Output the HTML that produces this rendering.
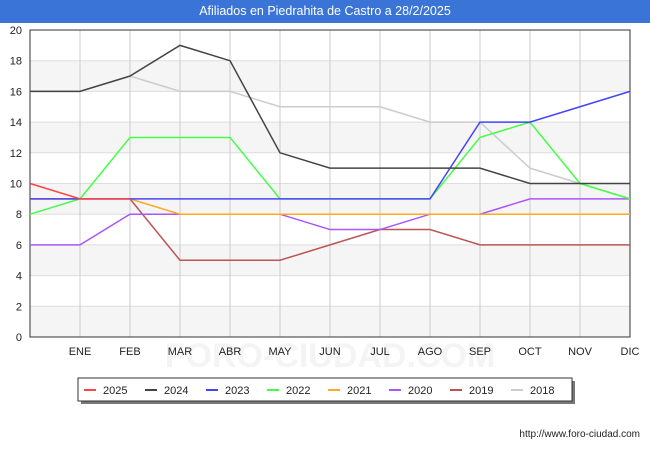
<!DOCTYPE html>
<html><head><meta charset="utf-8"><style>
body{margin:0;width:650px;height:450px;background:#fff;font-family:"Liberation Sans",sans-serif;overflow:hidden}
#title{position:absolute;left:0;top:0;width:650px;height:23px;background:#3a74d6;color:#fff;font-size:12.5px;text-align:center;line-height:23px}
</style></head><body>
<div id="title">Afiliados en Piedrahita de Castro a 28/2/2025</div>
<svg id="c" width="650" height="450" style="position:absolute;left:0;top:0"></svg>
<script>
const months=["","ENE","FEB","MAR","ABR","MAY","JUN","JUL","AGO","SEP","OCT","NOV","DIC"];
const yTicks=[0,2,4,6,8,10,12,14,16,18,20];
const names=["2025","2024","2023","2022","2021","2020","2019","2018"];
const colors=["#ff4444","#444444","#4444ff","#44ff44","#ffaa22","#aa55ff","#bb5555","#cccccc"];
const s2025=[10,9,9];
const s2024=[16,16,17,19,18,12,11,11,11,11,10,10,10];
const s2023=[9,9,9,9,9,9,9,9,9,14,14,15,16];
const s2022=[8,9,13,13,13,9,9,9,9,13,14,10,9];
const s2021=[9,9,9,8,8,8,8,8,8,8,8,8,8];
const s2020=[6,6,8,8,8,8,7,7,8,8,9,9,9];
const s2019=[9,9,9,5,5,5,6,7,7,6,6,6,6];
const s2018=[16,16,17,16,16,15,15,15,14,14,11,10,9];
const series=[s2025,s2024,s2023,s2022,s2021,s2020,s2019,s2018];
const NS="http://www.w3.org/2000/svg",svg=document.getElementById('c');
const L=30,R=630,T=30,B=337;
const x=i=>L+i*(R-L)/12, y=v=>B-v*(B-T)/20;
function mk(t,a,p){const e=document.createElementNS(NS,t);for(const k in a)e.setAttribute(k,a[k]);(p||svg).appendChild(e);return e;}
for(let v=0;v<20;v+=4){const r=mk('rect',{x:L,y:y(v+2),width:R-L,height:y(v)-y(v+2),fill:'#f5f5f5'});

}
const wm=mk('text',{x:330,y:367,'text-anchor':'middle','font-size':34,fill:'#f4f4f4','font-weight':'bold'});wm.textContent='FORO-CIUDAD.COM';


yTicks.forEach(v=>{const l=mk('line',{x1:L,x2:R,y1:y(v),y2:y(v),stroke:'#dddddd'});


const t=mk('text',{x:L-8,y:y(v)+4,'text-anchor':'end','font-size':11,fill:'#222'});t.textContent=v;

});
months.forEach((m,i)=>{const l=mk('line',{x1:x(i),x2:x(i),y1:T,y2:B,stroke:'#cccccc'});


const t=mk('text',{x:x(i),y:B+18,'text-anchor':'middle','font-size':11,fill:'#222'});t.textContent=m;

});
const fr=mk('rect',{x:L,y:T,width:R-L,height:B-T,fill:'none',stroke:'#333'});


for(let k=series.length-1;k>=0;k--){const d=series[k].map((v,i)=>(i?'L':'M')+x(i)+','+y(v)).join('');
const p=mk('path',{d:d,fill:'none',stroke:colors[k],'stroke-width':1.5});

}
const sh=mk('rect',{x:81,y:381,width:494,height:23,fill:'#777'});


const lg=mk('rect',{x:78,y:378,width:494,height:23,fill:'#fff',stroke:'#333'});


names.forEach((n,k)=>{const g=mk('g',{});


const lx=84+k*61;
mk('line',{x1:lx,x2:lx+12,y1:390,y2:390,stroke:colors[k],'stroke-width':2},g);
const t=mk('text',{x:lx+19,y:394,'font-size':11,fill:'#222'},g);t.textContent=n;});
const u=mk('text',{x:640,y:437,'text-anchor':'end','font-size':10,fill:'#222'});u.textContent='http://www.foro-ciudad.com';


</script>
</body></html>
